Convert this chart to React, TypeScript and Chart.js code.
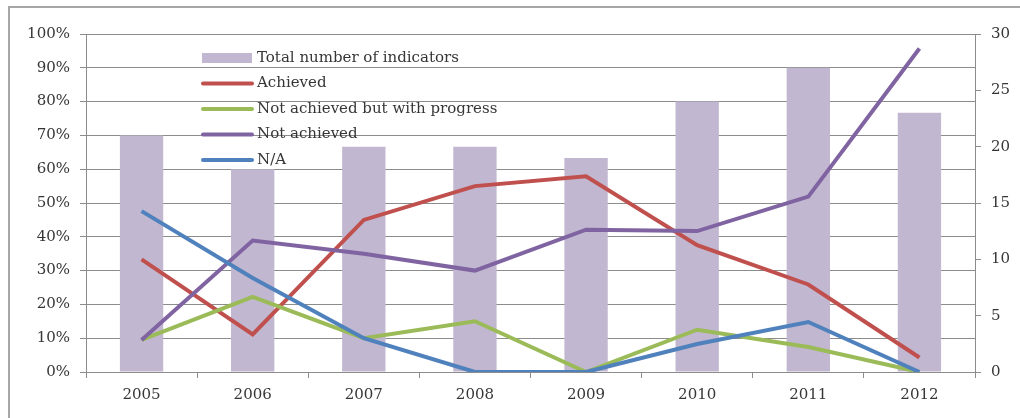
import React, { useEffect, useRef } from "react";
import { Chart, registerables } from "chart.js";

Chart.register(...registerables);

const years = ["2005", "2006", "2007", "2008", "2009", "2010", "2011", "2012"];
const totalIndicators = [21, 18, 20, 20, 19, 24, 27, 23];
const achieved = [33.3, 11.1, 45.0, 55.0, 57.9, 37.5, 25.9, 4.3];
const progress = [9.5, 22.2, 10.0, 15.0, 0, 12.5, 7.4, 0];
const notAchieved = [9.5, 38.9, 35.0, 30.0, 42.1, 41.7, 51.9, 95.7];
const notApplicable = [47.6, 27.8, 10.0, 0, 0, 8.3, 14.8, 0];

const FONT = "'DejaVu Serif', serif";
const TEXT = "#363636";
const GRID = "#8c8c8c";

const legendPlugin = {
  id: "insideLegend",
  afterDraw(chart: any) {
    const ctx = chart.ctx;
    const x0 = 202;
    const y0 = 58;
    const step = 25.5;
    ctx.save();
    ctx.font = `15px ${FONT}`;
    ctx.textBaseline = "middle";
    chart.data.datasets.forEach((ds: any, k: number) => {
      const y = y0 + k * step;
      if (ds.type === "bar") {
        ctx.fillStyle = ds.backgroundColor;
        ctx.fillRect(x0, y - 5, 50, 10);
      } else {
        ctx.strokeStyle = ds.borderColor;
        ctx.lineWidth = 4;
        ctx.lineCap = "round";
        ctx.beginPath();
        ctx.moveTo(x0 + 1, y);
        ctx.lineTo(x0 + 50, y);
        ctx.stroke();
      }
      ctx.fillStyle = TEXT;
      ctx.fillText(ds.label, x0 + 55, y);
    });
    ctx.restore();
  },
};

export default function App() {
  const ref = useRef<HTMLCanvasElement | null>(null);

  useEffect(() => {
    document.body.style.margin = "0";
    const canvas = ref.current;
    if (!canvas) return;
    const lineDs = (label: string, data: number[], color: string, order: number) => ({
      type: "line" as const,
      label,
      data,
      borderColor: color,
      backgroundColor: color,
      borderWidth: 4,
      pointRadius: 0,
      tension: 0,
      yAxisID: "y",
      order,
    });
    const chart = new Chart(canvas, {
      type: "bar",
      data: {
        labels: years,
        datasets: [
          {
            type: "bar" as const,
            label: "Total number of indicators",
            data: totalIndicators,
            backgroundColor: "#c2b7d0",
            borderWidth: 0,
            yAxisID: "y2",
            barPercentage: 0.39,
            categoryPercentage: 1,
            order: 10,
          } as any,
          lineDs("Achieved", achieved, "#c0504d", 4),
          lineDs("Not achieved but with progress", progress, "#9bbb59", 3),
          lineDs("Not achieved", notAchieved, "#8064a2", 2),
          lineDs("N/A", notApplicable, "#4f81bd", 1),
        ],
      },
      options: {
        responsive: false,
        animation: false,
        layout: { padding: { top: 34, left: 0, right: 0, bottom: 0 } },
        plugins: {
          legend: { display: false },
          tooltip: { enabled: false },
        },
        scales: {
          x: {
            offset: true,
            grid: {
              offset: true,
              drawOnChartArea: false,
              drawTicks: true,
              tickLength: 6,
              color: GRID,
            },
            border: { display: true, color: GRID },
            ticks: { font: { family: FONT, size: 15 }, color: TEXT, padding: 8 },
            afterFit(scale: any) {
              scale.height = 46;
            },
          },
          y: {
            position: "left",
            min: 0,
            max: 100,
            ticks: {
              stepSize: 10,
              callback: (v: any) => `${v}%`,
              font: { family: FONT, size: 15 },
              color: TEXT,
              padding: 10,
            },
            grid: { color: GRID, tickLength: 6 },
            border: { display: true, color: GRID },
            afterFit(scale: any) {
              scale.width = 86;
            },
          },
          y2: {
            position: "right",
            min: 0,
            max: 30,
            ticks: {
              stepSize: 5,
              font: { family: FONT, size: 15 },
              color: TEXT,
              padding: 10,
            },
            grid: { drawOnChartArea: false, color: GRID, tickLength: 6 },
            border: { display: true, color: GRID },
            afterFit(scale: any) {
              scale.width = 45;
            },
          },
        },
      },
      plugins: [legendPlugin],
    });
    return () => chart.destroy();
  }, []);

  return (
    <div style={{ position: "relative", width: 1020, height: 418, overflow: "hidden", background: "#fff" }}>
      <div
        style={{
          position: "absolute",
          left: 8,
          top: 6,
          width: 1040,
          height: 440,
          border: "2px solid #a6a6a6",
        }}
      />
      <canvas ref={ref} width={1020} height={418} style={{ position: "absolute", left: 0, top: 0 }} />
    </div>
  );
}
